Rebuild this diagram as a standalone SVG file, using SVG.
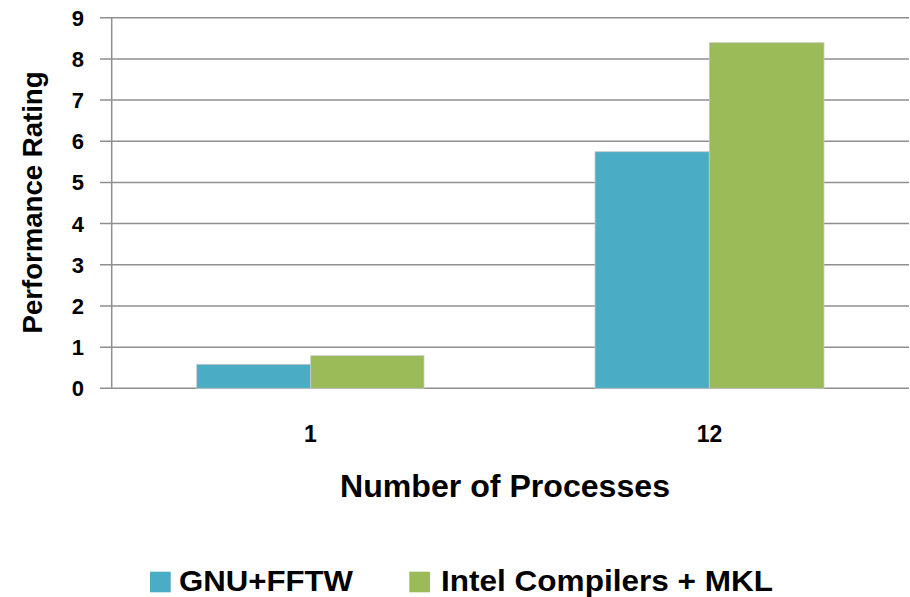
<svg xmlns="http://www.w3.org/2000/svg" width="910" height="597" viewBox="0 0 910 597">
<style>
.grid{stroke:#8f8f8f;stroke-width:1.5;fill:none}
.tick{font-family:"Liberation Sans",Arial,sans-serif;font-weight:bold;font-size:22px;fill:#000;text-anchor:end}
.cat{font-family:"Liberation Sans",Arial,sans-serif;font-weight:bold;font-size:23px;fill:#000;text-anchor:middle}
.title{font-family:"Liberation Sans",Arial,sans-serif;font-weight:bold;fill:#000}
.gnu{fill:#4BACC6;stroke:#c8c8c8;stroke-width:0.8}
.intel{fill:#9BBB59;stroke:#c8c8c8;stroke-width:0.8}
</style>
<rect x="0" y="0" width="910" height="597" fill="#ffffff"/>
<g id="gridlines">
<line class="grid" x1="100" y1="17.7" x2="909" y2="17.7"/>
<line class="grid" x1="100" y1="58.9" x2="909" y2="58.9"/>
<line class="grid" x1="100" y1="100.1" x2="909" y2="100.1"/>
<line class="grid" x1="100" y1="141.2" x2="909" y2="141.2"/>
<line class="grid" x1="100" y1="182.4" x2="909" y2="182.4"/>
<line class="grid" x1="100" y1="223.6" x2="909" y2="223.6"/>
<line class="grid" x1="100" y1="264.8" x2="909" y2="264.8"/>
<line class="grid" x1="100" y1="306" x2="909" y2="306"/>
<line class="grid" x1="100" y1="347.2" x2="909" y2="347.2"/>
<line class="grid" x1="100" y1="388.3" x2="909" y2="388.3"/>
<line class="grid" x1="111.7" y1="17.7" x2="111.7" y2="388.3"/>
</g>
<g id="ticks">
<text class="tick" x="84" y="25.6">9</text>
<text class="tick" x="84" y="66.8">8</text>
<text class="tick" x="84" y="108">7</text>
<text class="tick" x="84" y="149.1">6</text>
<text class="tick" x="84" y="190.3">5</text>
<text class="tick" x="84" y="231.5">4</text>
<text class="tick" x="84" y="272.7">3</text>
<text class="tick" x="84" y="313.9">2</text>
<text class="tick" x="84" y="355.1">1</text>
<text class="tick" x="84" y="396.2">0</text>
</g>
<g id="bars-1">
<rect class="gnu" x="196.7" y="364.3" width="114" height="24"/>
<rect class="intel" x="310.7" y="355.7" width="113.3" height="32.6"/>
</g>
<g id="bars-12">
<rect class="gnu" x="595" y="151.7" width="114.3" height="236.6"/>
<rect class="intel" x="709.3" y="42.7" width="114.7" height="345.6"/>
</g>
<g id="categories">
<text class="cat" x="310.5" y="441.7">1</text>
<text class="cat" x="709.5" y="441.7">12</text>
</g>
<g id="axis-titles">
<text class="title" x="505" y="497" font-size="32" text-anchor="middle" textLength="330" lengthAdjust="spacingAndGlyphs">Number of Processes</text>
<text class="title" transform="translate(41.7,202.5) rotate(-90)" x="0" y="0" font-size="28" text-anchor="middle" textLength="262" lengthAdjust="spacingAndGlyphs">Performance Rating</text>
</g>
<g id="legend">
<rect x="150" y="571.7" width="20.7" height="20.6" fill="#4BACC6"/>
<text class="title" x="179" y="590.7" font-size="30" textLength="174" lengthAdjust="spacingAndGlyphs">GNU+FFTW</text>
<rect x="409.3" y="571.7" width="20.7" height="20.6" fill="#9BBB59"/>
<text class="title" x="441" y="591" font-size="30" textLength="332" lengthAdjust="spacingAndGlyphs">Intel Compilers + MKL</text>
</g>
</svg>
